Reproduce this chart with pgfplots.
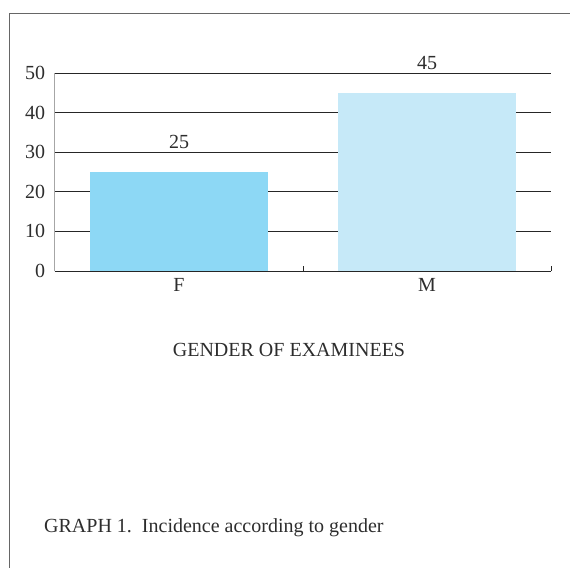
\documentclass[border=0pt]{standalone}
\usepackage{pgfplots}
\pgfplotsset{compat=1.18}
\usepackage{fontspec}
\setmainfont{Liberation Serif}
\definecolor{barF}{RGB}{141,216,245}
\definecolor{barM}{RGB}{198,233,248}
\definecolor{txt}{RGB}{45,45,45}
\begin{document}
\fontsize{20pt}{24pt}\selectfont
\begin{tikzpicture}[x=1pt,y=1pt]
\path[use as bounding box] (0,0) rectangle (570,-568);
\draw[black!60, line width=1pt] (570,-13) -- (9,-13) -- (9,-568);
\begin{axis}[
  at={(55pt,-271pt)}, anchor=south west,
  scale only axis, width=496pt, height=198pt,
  xmin=-0.5, xmax=1.5, ymin=0, ymax=50,
  ytick={0,10,20,30,40,50},
  xtick={0,1}, xticklabels={F,M},
  major tick length=0pt,
  extra x ticks={0.5,1.5}, extra x tick labels={},
  extra x tick style={major tick length=5pt, xtick align=inside, tick style={black!85, line width=1pt}, grid=none},
  ymajorgrids, grid style={black!85, line width=1pt},
  axis lines=left, axis line style={-},
  x axis line style={black!85, line width=1pt},
  y axis line style={black!35, line width=1pt},
  ybar, bar width=0.72, bar shift=0pt,
  ticklabel style={font=\fontsize{20pt}{24pt}\selectfont, text=txt},
  /pgf/number format/assume math mode=true,
  yticklabel style={xshift=-3pt},
  xticklabel style={yshift=-1pt},
  nodes near coords,
  every node near coord/.append style={font=\fontsize{20pt}{24pt}\selectfont, text=txt, yshift=16pt},
  clip=false,
]
\addplot[draw=none, fill=barF] coordinates {(0,25)};
\addplot[draw=none, fill=barM] coordinates {(1,45)};
\end{axis}
\node[text=txt] at (289,-350) {GENDER OF EXAMINEES};
\node[text=txt, anchor=west, inner sep=0pt] at (44,-528) {GRAPH 1.\ \ Incidence according to gender};
\end{tikzpicture}
\end{document}
